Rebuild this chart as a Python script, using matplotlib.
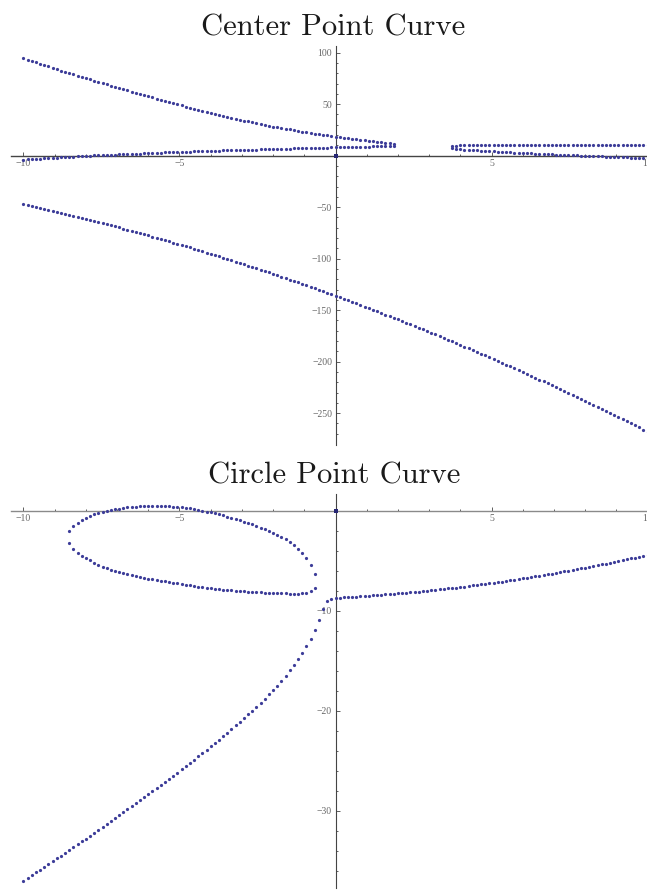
import numpy as np
import matplotlib
matplotlib.use('Agg')
import matplotlib.pyplot as plt

plt.rcParams['font.family'] = 'serif'
plt.rcParams['font.serif'] = ['Liberation Serif', 'DejaVu Serif']

# shared x samples: -10..10 in 150 steps, every branch uses a slice of it
x_grid = np.linspace(-10, 10, 151)

# ---- center point curve ----
# upper left branch, x_grid[0:90]
center_upper = [94.6, 93.3, 92.0, 90.6, 89.3, 87.9, 86.6, 85.3, 84.0, 82.7,
                81.5, 80.3, 79.0, 77.8, 76.5, 75.3, 74.1, 72.9, 71.7, 70.5,
                69.3, 68.1, 66.9, 65.7, 64.6, 63.4, 62.2, 61.1, 59.9, 58.8,
                57.6, 56.5, 55.4, 54.3, 53.2, 52.1, 51.0, 49.9, 48.8, 47.7,
                46.7, 45.7, 44.6, 43.6, 42.5, 41.5, 40.6, 39.6, 38.7, 37.8,
                36.8, 35.9, 35.0, 34.1, 33.3, 32.4, 31.6, 30.8, 30.0, 29.1,
                28.3, 27.6, 26.9, 26.2, 25.5, 24.8, 24.1, 23.4, 22.7, 22.1,
                21.5, 20.9, 20.4, 19.8, 19.2, 18.6, 18.1, 17.6, 17.0, 16.5,
                16.0, 15.5, 15.0, 14.4, 13.9, 13.4, 12.9, 12.4, 11.9, 11.2]
# lower left branch, x_grid[0:90]
center_lower = [-3.8, -3.55, -3.3, -3.0, -2.8, -2.5, -2.3, -2.0, -1.8, -1.6,
                -1.4, -1.1, -0.9, -0.7, -0.4, -0.2, 0.0, 0.2, 0.4, 0.5,
                0.7, 0.9, 1.1, 1.3, 1.4, 1.6, 1.8, 1.9, 2.1, 2.3,
                2.5, 2.7, 2.8, 3.0, 3.1, 3.3, 3.4, 3.6, 3.8, 3.9,
                4.0, 4.2, 4.3, 4.4, 4.6, 4.7, 4.8, 4.9, 5.1, 5.2,
                5.3, 5.4, 5.5, 5.7, 5.8, 5.9, 6.0, 6.1, 6.2, 6.4,
                6.5, 6.6, 6.7, 6.8, 6.9, 7.0, 7.1, 7.2, 7.4, 7.5,
                7.6, 7.7, 7.8, 7.9, 8.0, 8.1, 8.2, 8.3, 8.4, 8.5,
                8.6, 8.7, 8.8, 8.9, 8.95, 9.0, 9.15, 9.3, 9.45, 9.7]
# long falling branch over the whole range, x_grid[0:151]
center_long = [-47.0, -47.9, -48.8, -49.7, -50.7, -51.6, -52.5, -53.5, -54.4, -55.4,
               -56.4, -57.4, -58.4, -59.3, -60.3, -61.4, -62.4, -63.4, -64.4, -65.5,
               -66.5, -67.6, -68.6, -69.7, -70.8, -71.9, -73.0, -74.1, -75.2, -76.3,
               -77.4, -78.6, -79.7, -80.9, -82.0, -83.2, -84.4, -85.5, -86.7, -87.9,
               -89.1, -90.3, -91.5, -92.8, -94.0, -95.2, -96.5, -97.7, -99.0, -100.3,
               -101.6, -102.8, -104.1, -105.4, -106.7, -108.1, -109.4, -110.7, -112.1, -113.4,
               -114.8, -116.1, -117.5, -118.9, -120.3, -121.6, -123.0, -124.5, -125.9, -127.3,
               -128.7, -130.2, -131.6, -133.1, -134.5, -136.0, -137.5, -139.0, -140.5, -142.0,
               -143.5, -145.0, -146.5, -148.0, -149.6, -151.1, -152.7, -154.2, -155.8, -157.4,
               -159.0, -160.6, -162.2, -163.8, -165.4, -167.0, -168.6, -170.3, -171.9, -173.6,
               -175.2, -176.9, -178.6, -180.3, -181.9, -183.6, -185.3, -187.1, -188.8, -190.5,
               -192.2, -194.0, -195.7, -197.5, -199.3, -201.0, -202.8, -204.6, -206.4, -208.2,
               -210.0, -211.9, -213.7, -215.5, -217.4, -219.2, -221.1, -222.9, -224.8, -226.7,
               -228.6, -230.5, -232.4, -234.3, -236.2, -238.2, -240.1, -242.0, -244.0, -245.9,
               -247.9, -249.9, -251.9, -253.9, -255.9, -257.9, -259.9, -261.9, -263.9, -266.0,
               -268.0]
# right pair of branches, x_grid[103:151]
center_right_upper = [9.3, 9.7, 9.9, 10.0, 10.0, 10.0, 10.0, 10.0, 10.0, 10.0,
                      10.0, 10.0, 10.0, 10.0, 10.0, 10.0, 10.1, 10.1, 10.1, 10.1,
                      10.1, 10.1, 10.1, 10.1, 10.1, 10.1, 10.1, 10.1, 10.2, 10.2,
                      10.2, 10.2, 10.2, 10.2, 10.2, 10.2, 10.2, 10.2, 10.3, 10.3,
                      10.3, 10.3, 10.3, 10.3, 10.3, 10.4, 10.4, 10.4]
center_right_lower = [7.2, 6.6, 6.2, 5.9, 5.6, 5.3, 5.05, 4.8, 4.55, 4.3,
                      4.1, 3.9, 3.7, 3.5, 3.25, 3.0, 2.8, 2.6, 2.4, 2.2,
                      2.0, 1.8, 1.6, 1.4, 1.2, 1.0, 0.85, 0.7, 0.5, 0.35,
                      0.2, 0.0, -0.15, -0.3, -0.45, -0.6, -0.75, -0.9, -1.05, -1.2,
                      -1.35, -1.5, -1.65, -1.8, -1.95, -2.1, -2.3, -2.45]

# ---- circle point curve ----
# main branch, x_grid[0:151]
circle_main = [-37.0, -36.72, -36.45, -36.17, -35.89, -35.61, -35.33, -35.05, -34.77, -34.49,
               -34.20, -33.92, -33.64, -33.35, -33.07, -32.78, -32.49, -32.20, -31.91, -31.62,
               -31.33, -31.04, -30.75, -30.45, -30.16, -29.86, -29.56, -29.26, -28.96, -28.66,
               -28.36, -28.05, -27.75, -27.44, -27.13, -26.82, -26.50, -26.19, -25.87, -25.55,
               -25.22, -24.90, -24.57, -24.24, -23.91, -23.57, -23.23, -22.89, -22.54, -22.19,
               -21.83, -21.47, -21.11, -20.74, -20.36, -19.98, -19.59, -19.19, -18.78, -18.37,
               -17.94, -17.50, -17.02, -16.50, -15.95, -15.38, -14.80, -14.20, -13.53, -12.80,
               -11.95, -10.95, -9.80, -9.00, -8.80, -8.70, -8.68, -8.66, -8.63, -8.61,
               -8.58, -8.55, -8.53, -8.50, -8.47, -8.44, -8.41, -8.37, -8.34, -8.31,
               -8.27, -8.24, -8.20, -8.16, -8.12, -8.08, -8.04, -8.00, -7.96, -7.91,
               -7.87, -7.82, -7.77, -7.73, -7.68, -7.63, -7.58, -7.53, -7.47, -7.42,
               -7.37, -7.31, -7.25, -7.20, -7.14, -7.08, -7.02, -6.96, -6.90, -6.83,
               -6.77, -6.70, -6.64, -6.57, -6.50, -6.43, -6.36, -6.29, -6.22, -6.15,
               -6.07, -6.00, -5.92, -5.85, -5.77, -5.69, -5.61, -5.53, -5.45, -5.37,
               -5.29, -5.20, -5.12, -5.03, -4.94, -4.85, -4.77, -4.68, -4.58, -4.49,
               -4.40]
# closed loop, both halves on x_grid[11:71]
circle_loop_upper = [-2.0, -1.5, -1.18, -0.92, -0.70, -0.52, -0.37, -0.24, -0.12, -0.02,
                     0.07, 0.15, 0.22, 0.28, 0.33, 0.37, 0.40, 0.43, 0.45, 0.47,
                     0.48, 0.48, 0.48, 0.47, 0.45, 0.42, 0.38, 0.34, 0.29, 0.23,
                     0.16, 0.09, 0.01, -0.08, -0.17, -0.26, -0.36, -0.47, -0.58, -0.70,
                     -0.82, -0.95, -1.08, -1.22, -1.37, -1.52, -1.68, -1.85, -2.03, -2.22,
                     -2.42, -2.64, -2.87, -3.12, -3.45, -3.83, -4.27, -4.77, -5.40, -6.30]
circle_loop_lower = [-3.20, -3.80, -4.18, -4.48, -4.74, -4.97, -5.20, -5.40, -5.58, -5.75,
                     -5.90, -6.02, -6.13, -6.24, -6.34, -6.44, -6.53, -6.62, -6.70, -6.78,
                     -6.85, -6.92, -6.99, -7.05, -7.13, -7.20, -7.27, -7.34, -7.41, -7.47,
                     -7.53, -7.59, -7.64, -7.69, -7.74, -7.79, -7.84, -7.88, -7.92, -7.96,
                     -8.00, -8.03, -8.06, -8.09, -8.12, -8.15, -8.17, -8.19, -8.21, -8.23,
                     -8.25, -8.26, -8.27, -8.28, -8.28, -8.28, -8.25, -8.18, -8.06, -7.77]

# pivot at the origin, drawn on both plots
origin_x = [0]
origin_y = [0]

dot_color = (0.24, 0.24, 0.6)
label_color = '#666666'

x_major = [-10, -5, 5, 10]
x_minor = [v for v in range(-10, 11) if v % 5 != 0]


def fmt(v):
    return str(v).replace('-', '\u2212')


def dots(ax, start, ys):
    ax.plot(x_grid[start:start + len(ys)], ys, 'o', ms=2.3, mew=0,
            color=dot_color, clip_on=False, zorder=3)


def setup_axes(ax, ylim, y_major, y_minor, xaxis_color, yaxis_color):
    ax.set_xlim(-10.41, 10.41)
    ax.set_ylim(*ylim)
    ax.patch.set_visible(False)
    ax.spines['top'].set_visible(False)
    ax.spines['right'].set_visible(False)
    ax.spines['left'].set_position(('data', 0))
    ax.spines['bottom'].set_position(('data', 0))
    ax.spines['bottom'].set_color(xaxis_color)
    ax.spines['left'].set_color(yaxis_color)
    ax.spines['bottom'].set_linewidth(1.0)
    ax.spines['left'].set_linewidth(0.8)
    ax.set_xticks(x_major, labels=[fmt(v) for v in x_major])
    ax.set_xticks(x_minor, minor=True)
    ax.set_yticks(y_major, labels=[fmt(v) for v in y_major])
    ax.set_yticks(y_minor, minor=True)
    ax.tick_params(which='both', direction='in', labelsize=7, labelcolor=label_color,
                   color='#444444', width=0.6)
    ax.tick_params(which='major', length=2.6, pad=2.5)
    ax.tick_params(which='minor', length=1.6)


fig = plt.figure(figsize=(6.47, 8.93), dpi=100)

# center point curve
ax1 = fig.add_axes([10.7 / 647, 1 - 445.1 / 893, 649.6 / 647, 399.1 / 893])
setup_axes(ax1, (-281, 106.5),
           [100, 50, -50, -100, -150, -200, -250],
           [v for v in range(-270, 101, 10) if v % 50 != 0],
           '#444444', '#444444')
dots(ax1, 0, center_upper)
dots(ax1, 0, center_lower)
dots(ax1, 0, center_long)
dots(ax1, 103, center_right_upper)
dots(ax1, 103, center_right_lower)
ax1.plot(origin_x, origin_y, 's', ms=2.2, mew=0, color=(0.15, 0.15, 0.45), zorder=4)

# circle point curve
ax2 = fig.add_axes([10.7 / 647, 1 - 887.7 / 893, 649.6 / 647, 394.0 / 893])
setup_axes(ax2, (-37.7, 1.7),
           [-10, -20, -30],
           [v for v in range(-36, 0, 2) if v % 10 != 0],
           '#8a8a8a', '#444444')
dots(ax2, 0, circle_main)
dots(ax2, 11, circle_loop_upper)
dots(ax2, 11, circle_loop_lower)
ax2.plot(origin_x, origin_y, 's', ms=2.2, mew=0, color=(0.15, 0.15, 0.45), zorder=4)

fig.text(333 / 647, 1 - 36 / 893, 'Center Point Curve', family='cmr10', fontsize=22,
         color='#1a1a1a', ha='center', va='baseline')
fig.text(334 / 647, 1 - 484 / 893, 'Circle Point Curve', family='cmr10', fontsize=22,
         color='#1a1a1a', ha='center', va='baseline')

fig.savefig('out.png', dpi=100)
